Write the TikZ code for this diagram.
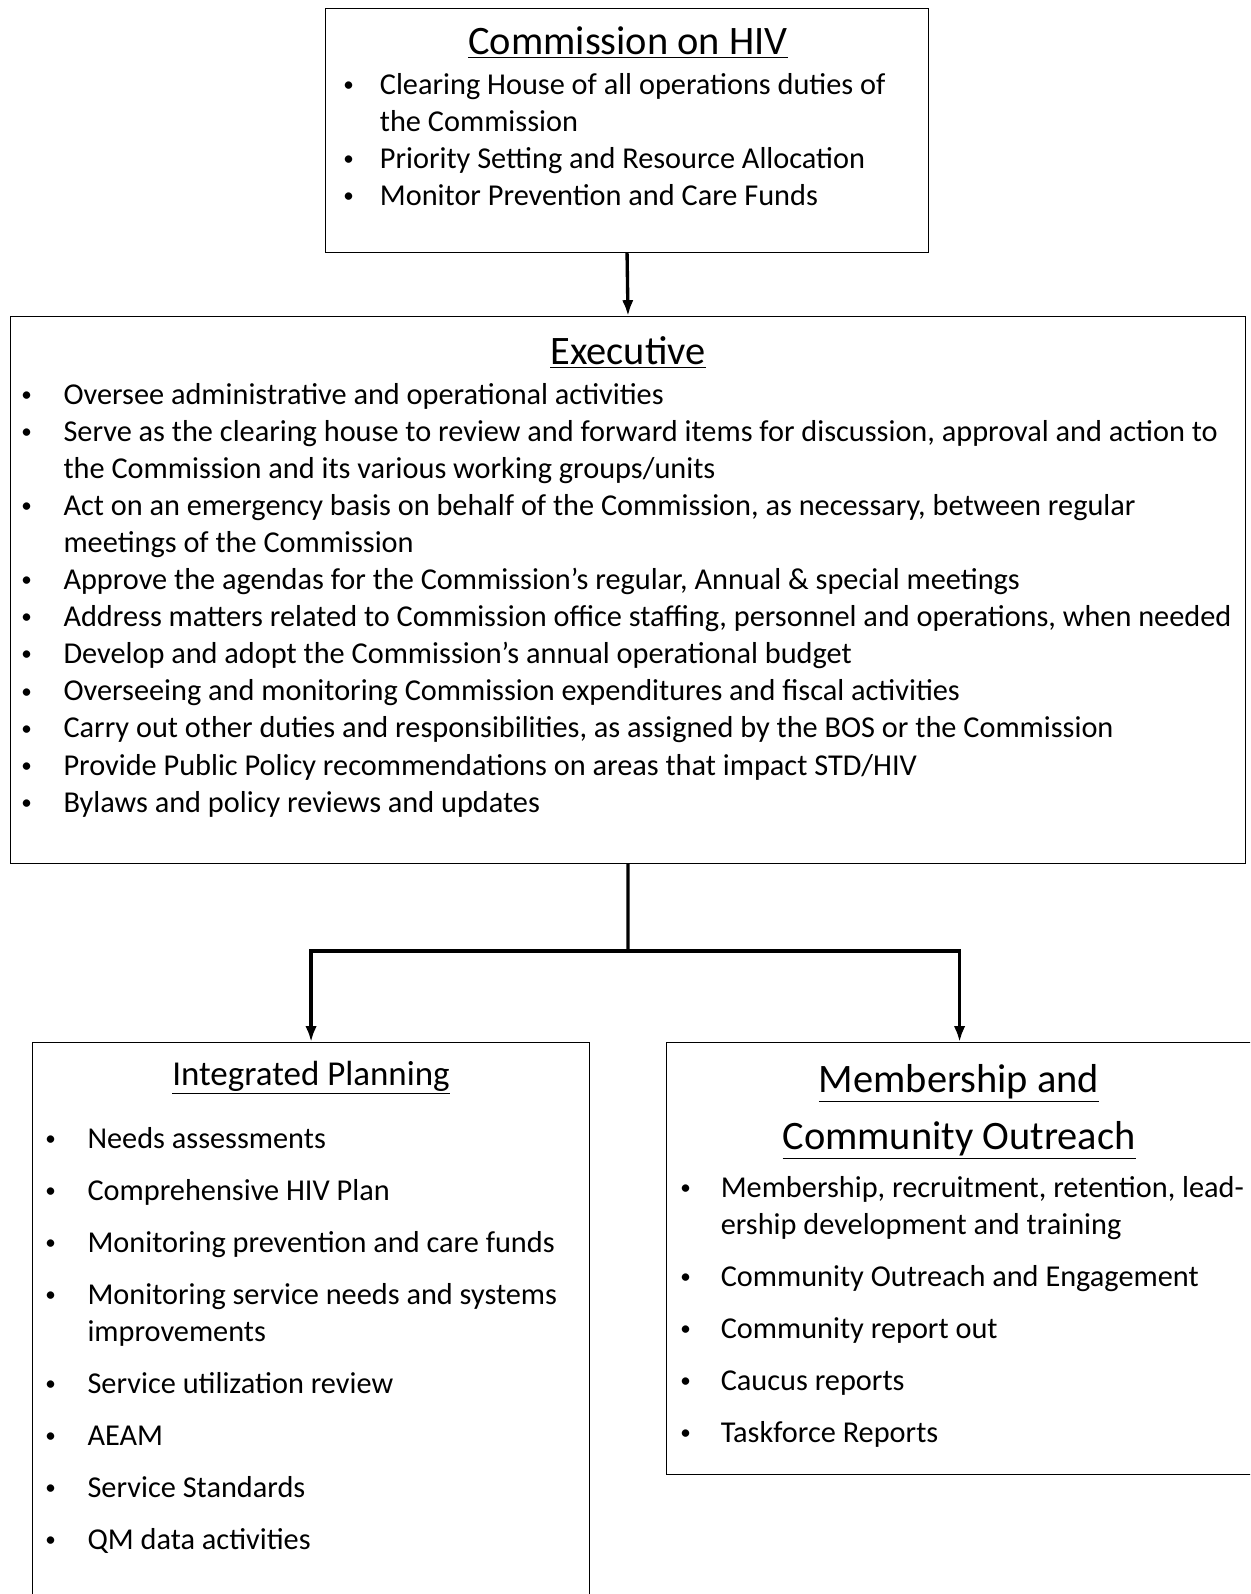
\documentclass[tikz,border=0pt]{standalone}
\usepackage{fontspec}
\setmainfont{Carlito}
\usetikzlibrary{arrows.meta}

\tikzset{
  boxframe/.style={draw, line width=0.7pt, inner sep=0pt, anchor=north west},
  boxtext/.style={inner sep=0pt, anchor=north west, align=left,
    font=\fontsize{17.25}{21.1}\selectfont},
  boxtitle/.style={inner sep=0pt, anchor=base, font=\fontsize{23}{27}\selectfont},
  subtitle/.style={boxtitle, font=\fontsize{19.9}{24}\selectfont},
  link/.style={line width=1.9pt},
  linkarrow/.style={link, -{Latex[length=9pt,width=6.5pt]}}
}
\newcommand{\bul}[1][24.5pt]{\strut\makebox[#1][l]{\raisebox{1.6pt}{\fontsize{12}{12}\selectfont\textbullet}}}
\newcommand{\hang}[1][24.5pt]{\strut\hspace*{#1}}

\begin{document}
\begin{tikzpicture}[x=0.02cm, y=-0.02cm]
  \useasboundingbox (0,0) rectangle (1250,1594);
  \clip (0,0) rectangle (1250,1594);
  \fill[white] (0,0) rectangle (1250,1594);

  % Frames
  \node[boxframe, minimum width=12.06cm, minimum height=4.88cm] (comm) at (325,8) {};
  \node[boxframe, minimum width=24.7cm, minimum height=10.94cm] (exec) at (10,316) {};
  \node[boxframe, minimum width=11.14cm, minimum height=11.5cm] (plan) at (32,1042) {};
  \node[boxframe, minimum width=11.72cm, minimum height=8.64cm] (memb) at (666,1042) {};

  % Commission on HIV
  \node[boxtitle] (commtitle) at (628,55) {\underline{Commission on HIV}};
  \node[boxtext] (commlist) at (343,68) {
    \bul[20.8pt]Clearing House of all operations duties of\\
    \hang[20.8pt]the Commission\\
    \bul[20.8pt]Priority Setting and Resource Allocation\\
    \bul[20.8pt]Monitor Prevention and Care Funds};

  % Executive
  \node[boxtitle] (exectitle) at (628,365) {\underline{Executive}};
  \node[boxtext] (execlist) at (21,378) {
    \bul[24pt]Oversee administrative and operational activities\\
    \bul[24pt]Serve as the clearing house to review and forward items for discussion, approval and action to\\
    \hang[24pt]the Commission and its various working groups/units\\
    \bul[24pt]Act on an emergency basis on behalf of the Commission, as necessary, between regular\\
    \hang[24pt]meetings of the Commission\\
    \bul[24pt]Approve the agendas for the Commission’s regular, Annual \& special meetings\\
    \bul[24pt]Address matters related to Commission office staffing, personnel and operations, when needed\\
    \bul[24pt]Develop and adopt the Commission’s annual operational budget\\
    \bul[24pt]Overseeing and monitoring Commission expenditures and fiscal activities\\
    \bul[24pt]Carry out other duties and responsibilities, as assigned by the BOS or the Commission\\
    \bul[24pt]Provide Public Policy recommendations on areas that impact STD/HIV\\
    \bul[24pt]Bylaws and policy reviews and updates};

  % Integrated Planning
  \node[subtitle] (plantitle) at (311,1085) {\underline{Integrated Planning}};
  \node[boxtext] (planlist) at (45,1122) {
    \bul[24pt]Needs assessments\\[8.5pt]
    \bul[24pt]Comprehensive HIV Plan\\[8.5pt]
    \bul[24pt]Monitoring prevention and care funds\\[8.5pt]
    \bul[24pt]Monitoring service needs and systems\\
    \hang[24pt]improvements\\[8.5pt]
    \bul[24pt]Service utilization review\\[8.5pt]
    \bul[24pt]AEAM\\[8.5pt]
    \bul[24pt]Service Standards\\[8.5pt]
    \bul[24pt]QM data activities};

  % Membership and Community Outreach
  \node[boxtitle] (membtitle) at (959,1092) {\underline{Membership and}};
  \node[boxtitle] (membtitlb) at (959,1149) {\underline{Community Outreach}};
  \node[boxtext] (memblist) at (680,1171) {
    \bul[23pt]Membership, recruitment, retention, lead-\\
    \hang[23pt]ership development and training\\[8.5pt]
    \bul[23pt]Community Outreach and Engagement\\[8.5pt]
    \bul[23pt]Community report out\\[8.5pt]
    \bul[23pt]Caucus reports\\[8.5pt]
    \bul[23pt]Taskforce Reports};

  % Connectors
  \coordinate (split) at (628,951);
  \draw[linkarrow] (comm.south) -- (exec.north);
  \draw[link] (exec.south) -- (split);
  \draw[linkarrow] (split) -| (plan.north);
  \draw[linkarrow] (split) -| (memb.north);
\end{tikzpicture}
\end{document}
